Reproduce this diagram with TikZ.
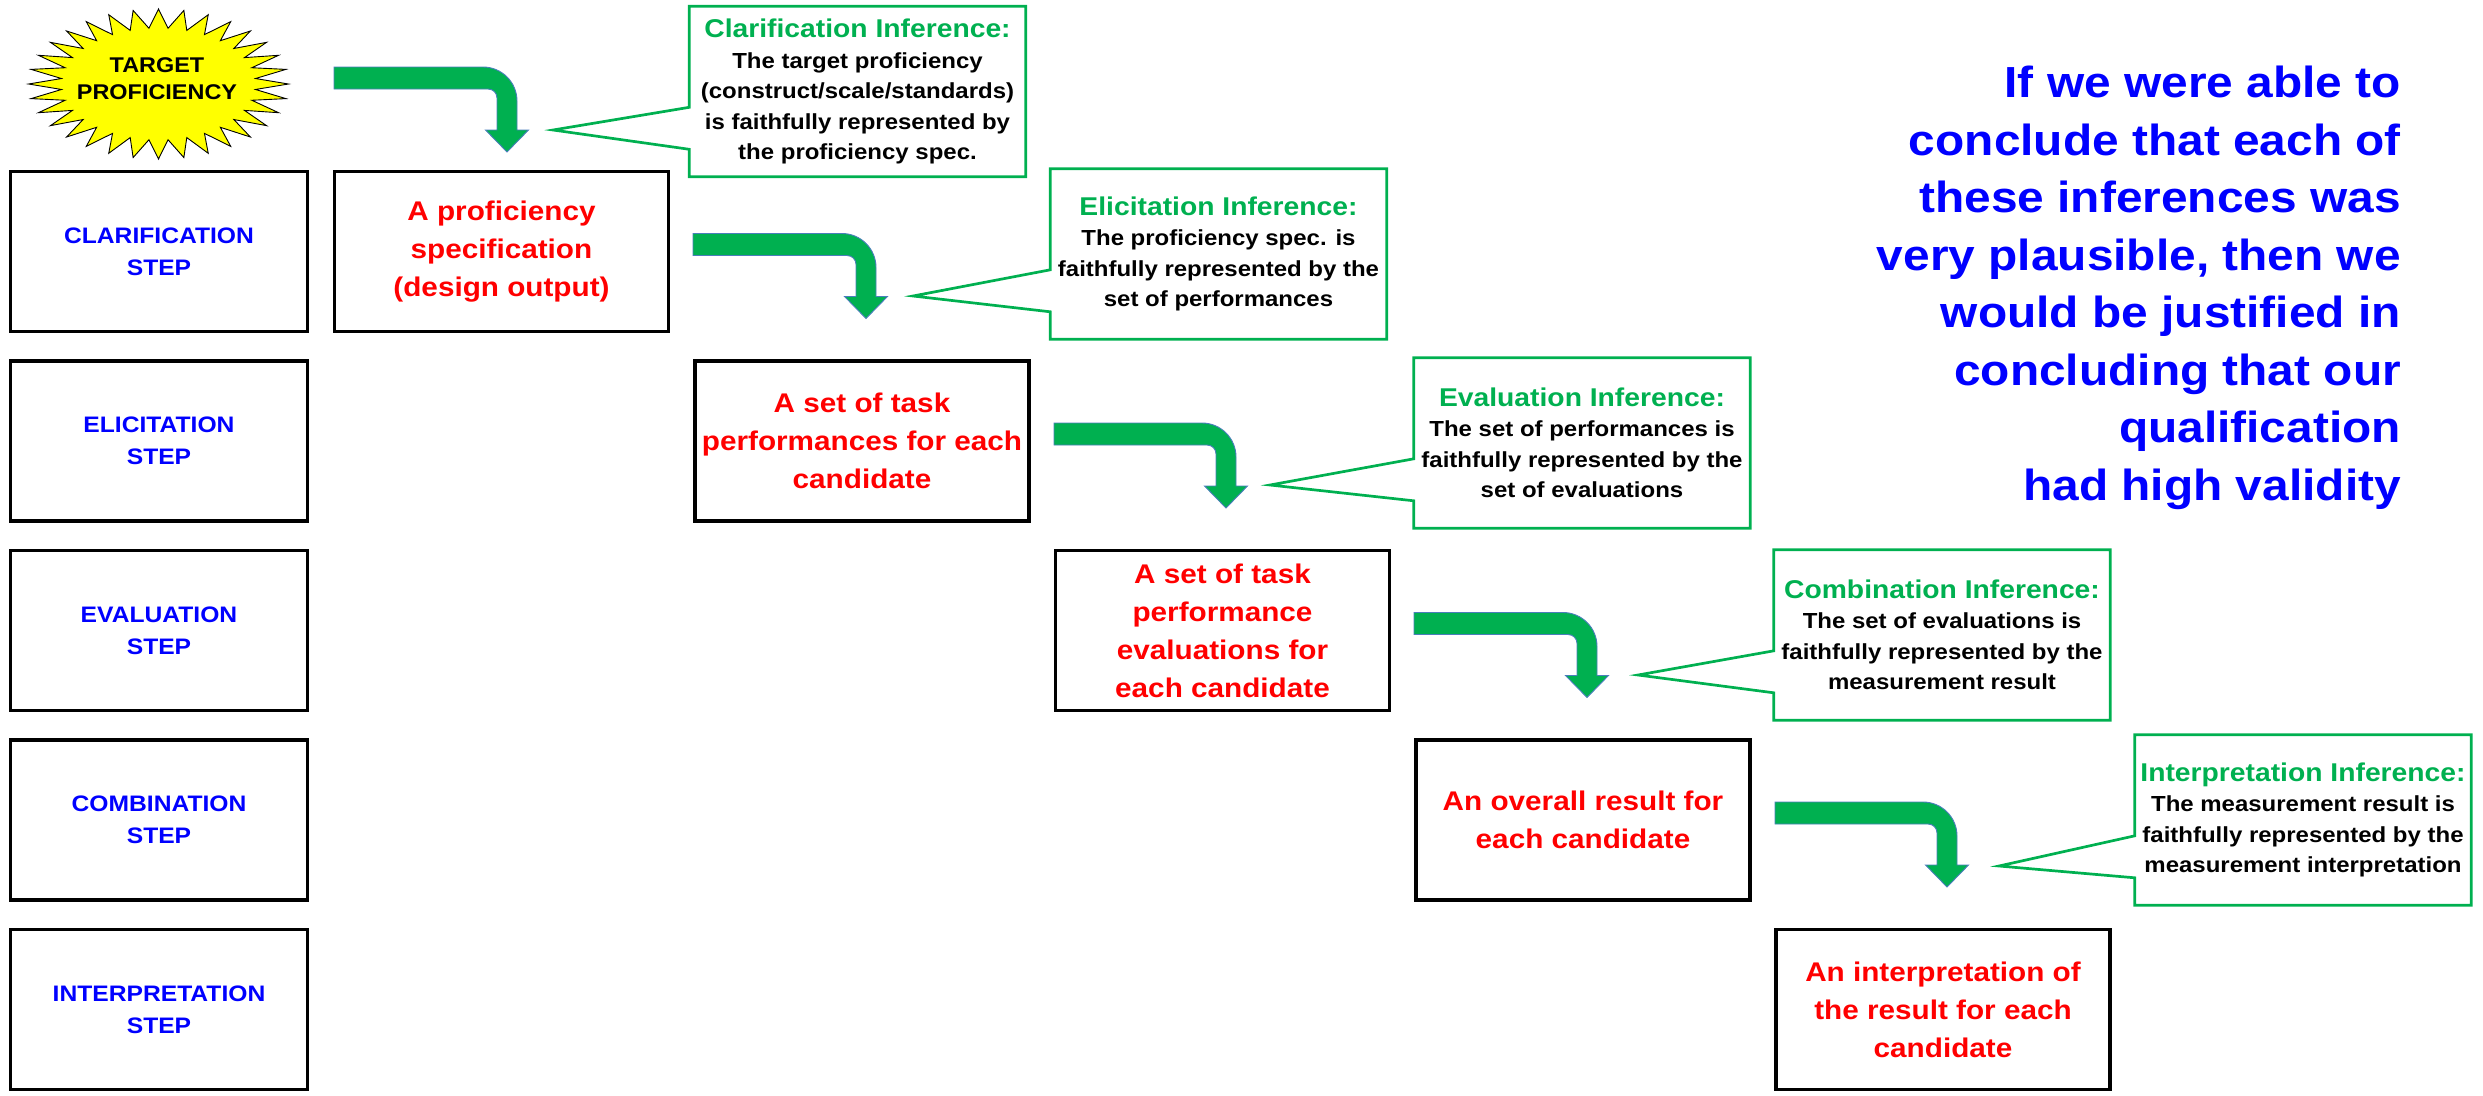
\documentclass[tikz,border=0pt]{standalone}
\usepackage{fontspec}
\setmainfont{Liberation Sans}[FakeStretch=1.1]
\usetikzlibrary{calc}
\definecolor{pgreen}{HTML}{00B050}
\definecolor{arrowedge}{HTML}{4A7EBB}
\definecolor{sblue}{HTML}{0000FF}
\definecolor{sred}{HTML}{FF0000}
\definecolor{staryellow}{HTML}{FFFF00}

\tikzset{
  stepbox/.style={draw=black, line width=3.2pt, minimum width=297pt, minimum height=160pt,
    inner sep=0pt, align=center, text=sblue, font=\bfseries\fontsize{22.4}{32}\selectfont},
  outbox/.style={draw=black, line width=3.2pt, minimum width=334pt, minimum height=160pt,
    inner sep=0pt, align=center, text=sred, font=\bfseries\fontsize{27}{38}\selectfont},
  inferbox/.style={minimum width=336pt, minimum height=170pt, inner sep=0pt, align=center,
    font=\bfseries\fontsize{21.8}{30.5}\selectfont},
  calloutline/.style={draw=pgreen, line width=2.7pt, line join=miter},
  bentarrow/.style={fill=pgreen, draw=arrowedge, line width=0.9pt},
  startext/.style={align=center, inner sep=0pt, font=\bfseries\fontsize{21.3}{27}\selectfont},
  concltext/.style={align=right, inner sep=0pt, text=sblue, font=\bfseries\fontsize{43.5}{57.5}\selectfont},
}
\newcommand{\infertitle}[1]{{\fontsize{25.7}{31}\selectfont\color{pgreen}#1}}

% bent block arrow: #1 left end, #2 top edge, #3 x of the tip
\newcommand{\bentblock}[3]{%
  \filldraw[bentarrow] (#1,#2) -- ({#3+10-34},#2)
    .. controls ({#3+10-15.2},#2) and ({#3+10},{#2+15.2}) .. ({#3+10},{#2+34})
    -- ({#3+10},{#2+63}) -- ({#3+21.5},{#2+63}) -- (#3,{#2+85})
    -- ({#3-21.5},{#2+63}) -- ({#3-10},{#2+63}) -- ({#3-10},{#2+31})
    .. controls ({#3-10},{#2+26}) and ({#3-14},{#2+22}) .. ({#3-19},{#2+22})
    -- (#1,{#2+22}) -- cycle;}

% speech-bubble outline around an inference node, pointing at a tip coordinate
\newcommand{\bubble}[2]{%
  \draw[calloutline] (#1.north west) -- (#1.north east) -- (#1.south east) -- (#1.south west)
    -- ($(#1.north west)+(0,143)$) -- (#2) -- ($(#1.north west)+(0,101)$) -- cycle;}

\begin{document}
\begin{tikzpicture}[x=1pt,y=-1pt]
\useasboundingbox (0,0) rectangle (2483,1095);

% starburst
\filldraw[fill=staryellow, draw=black, line width=0.9pt, line join=miter]
  ({158.5+130},84) \foreach \k in {0,...,31} {
    -- ({158.5+97.5*cos(\k*11.25+5.625)},{84+56*sin(\k*11.25+5.625)})
    -- ({158.5+130*cos((\k+1)*11.25)},{84+75*sin((\k+1)*11.25)}) } -- cycle;
\node[startext] (target) at (157,79) {TARGET\\PROFICIENCY};

% step column
\node[stepbox] (s1) at (159,251.5) {CLARIFICATION\\STEP};
\node[stepbox] (s2) at (159,441) {ELICITATION\\STEP};
\node[stepbox] (s3) at (159,630.5) {EVALUATION\\STEP};
\node[stepbox] (s4) at (159,820) {COMBINATION\\STEP};
\node[stepbox] (s5) at (159,1009.5) {INTERPRETATION\\STEP};

% outputs of each step
\node[outbox] (o1) at (501.5,251.5) {A proficiency\\specification\\(design output)};
\node[outbox] (o2) at (862,441) {A set of task\\performances for each\\candidate};
\node[outbox] (o3) at (1222.5,630.5) {A set of task\\performance\\evaluations for\\each candidate};
\node[outbox] (o4) at (1583,820) {An overall result for\\each candidate};
\node[outbox] (o5) at (1943,1009.5) {An interpretation of\\the result for each\\candidate};

% block arrows leading into each output
\bentblock{334}{67}{507}
\bentblock{693}{233.5}{866}
\bentblock{1054}{423}{1226}
\bentblock{1414}{612.5}{1587}
\bentblock{1775}{802}{1947}

% inferences
\coordinate (t1) at (553,130);
\coordinate (t2) at (913,296);
\coordinate (t3) at (1270,485);
\coordinate (t4) at (1638,675);
\coordinate (t5) at (1999,866);

\node[inferbox] (i1) at (857.5,91.5) {\infertitle{Clarification Inference:}\\The target proficiency\\(construct/scale/standards)\\is faithfully represented by\\the proficiency spec.};
\node[inferbox] (i2) at (1218.5,254) {\infertitle{Elicitation Inference:}\\The proficiency spec. is\\faithfully represented by the\\set of performances};
\node[inferbox] (i3) at (1582,443) {\infertitle{Evaluation Inference:}\\The set of performances is\\faithfully represented by the\\set of evaluations};
\node[inferbox] (i4) at (1942,635) {\infertitle{Combination Inference:}\\The set of evaluations is\\faithfully represented by the\\measurement result};
\node[inferbox] (i5) at (2303,820) {\infertitle{Interpretation Inference:}\\The measurement result is\\faithfully represented by the\\measurement interpretation};

\bubble{i1}{t1}
\bubble{i2}{t2}
\bubble{i3}{t3}
\bubble{i4}{t4}
\bubble{i5}{t5}

% conclusion
\node[concltext, anchor=north east] (concl) at (2401,66) {If we were able to\\conclude that each of\\these inferences was\\very plausible, then we\\would be justified in\\concluding that our\\qualification\\had high validity};
\end{tikzpicture}
\end{document}
